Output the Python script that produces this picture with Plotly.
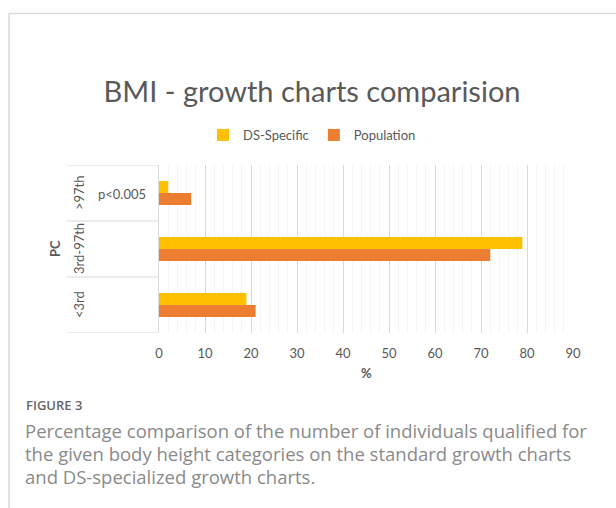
import plotly.graph_objects as go

categories = ["<3rd", "3rd-97th", ">97th"]
ds_specific = [19, 79, 2]
population = [21, 72, 7]
x_ticks = [0, 10, 20, 30, 40, 50, 60, 70, 80, 90]

title_text = "BMI - growth charts comparision"
caption_head = "FIGURE 3"
caption_lines = [
    "Percentage comparison of the number of individuals qualified for",
    "the given body height categories on the standard growth charts",
    "and DS-specialized growth charts.",
]

W, H = 616, 508
L, R, T, B = 159, 573, 165, 333


def px(x):
    return (x - L) / (R - L)


def py(y):
    return (B - y) / (B - T)


FONT = "Lato"
GREY = "#595959"

fig = go.Figure()
fig.add_trace(go.Bar(y=categories, x=population, orientation="h", name="Population",
                     marker=dict(color="#ED7D31", line=dict(width=0)), legendrank=2))
fig.add_trace(go.Bar(y=categories, x=ds_specific, orientation="h", name="DS-Specific",
                     marker=dict(color="#FFC000", line=dict(width=0)), legendrank=1))

shapes = []
# frame
shapes.append(dict(type="line", xref="paper", yref="paper", x0=px(9), x1=px(620), y0=py(13.5), y1=py(13.5),
                   line=dict(color="#d9d9d9", width=1.5)))
shapes.append(dict(type="line", xref="paper", yref="paper", x0=px(9), x1=px(9), y0=py(13.5), y1=py(510),
                   line=dict(color="#d9d9d9", width=1.5)))
# category separators
for yv in [-0.5, 0.5, 1.5, 2.5]:
    shapes.append(dict(type="line", xref="paper", yref="y", x0=px(67), x1=0, y0=yv, y1=yv,
                       line=dict(color="#d9d9d9", width=1)))

annotations = []
for c in categories:
    annotations.append(dict(xref="paper", yref="y", x=px(79), y=c, text=c, textangle=-90,
                            xanchor="center", yanchor="middle",
                            showarrow=False, font=dict(family=FONT, size=13, color=GREY)))
annotations.append(dict(xref="paper", yref="paper", x=px(55), y=py(249), text="<b>PC</b>", textangle=-90,
                        xanchor="center", yanchor="middle",
                        showarrow=False, font=dict(family=FONT, size=13, color=GREY)))
annotations.append(dict(xref="paper", yref="paper", x=px(122), y=py(194), text="p<0.005",
                        xanchor="center", yanchor="middle",
                        showarrow=False, font=dict(family=FONT, size=13, color=GREY)))
annotations.append(dict(xref="paper", yref="paper", x=px(366), y=py(373), text="<b>%</b>",
                        xanchor="center", yanchor="middle",
                        showarrow=False, font=dict(family=FONT, size=13, color=GREY)))
annotations.append(dict(xref="paper", yref="paper", x=px(24), y=py(405), xanchor="left", yanchor="middle",
                        text=caption_head, showarrow=False,
                        font=dict(family="Open Sans", size=13, color="#666666", weight=600)))
for i, line in enumerate(caption_lines):
    annotations.append(dict(xref="paper", yref="paper", x=px(23), y=py(430 + 23 * i), xanchor="left",
                            yanchor="middle", text=line, showarrow=False,
                            font=dict(family="Open Sans", size=18.5, color="#8a8a8a")))

fig.update_layout(
    width=W, height=H,
    margin=dict(l=L, r=W - R, t=T, b=H - B, pad=0),
    paper_bgcolor="white", plot_bgcolor="white",
    barmode="group", bargap=0.57, bargroupgap=0,
    title=dict(text=title_text, x=312 / W, xref="container", xanchor="center",
               y=1 - 92 / H, yref="container", yanchor="middle",
               font=dict(family=FONT, size=29, color=GREY)),
    legend=dict(orientation="h", x=312 / W, xref="container", xanchor="center",
                y=1 - 135 / H, yref="container", yanchor="middle",
                font=dict(family=FONT, size=13, color=GREY), itemwidth=30),
    xaxis=dict(range=[0, 90], tickvals=x_ticks, showgrid=True, gridcolor="#d9d9d9", gridwidth=1,
               minor=dict(dtick=2, showgrid=True, gridcolor="#f4f4f4"),
               zeroline=False, showline=False, ticks="",
               tickfont=dict(family=FONT, size=13, color=GREY), ticklabelstandoff=11),
    yaxis=dict(categoryorder="array", categoryarray=categories, showticklabels=False,
               showgrid=False, zeroline=False, showline=True, linecolor="#d9d9d9", linewidth=1,
               ticks="", range=[-0.5, 2.5]),
    shapes=shapes, annotations=annotations, showlegend=True,
)

fig.write_html("out.html", config={"displayModeBar": False},
               post_script="document.body.style.margin='0';document.body.style.overflow='hidden';")
